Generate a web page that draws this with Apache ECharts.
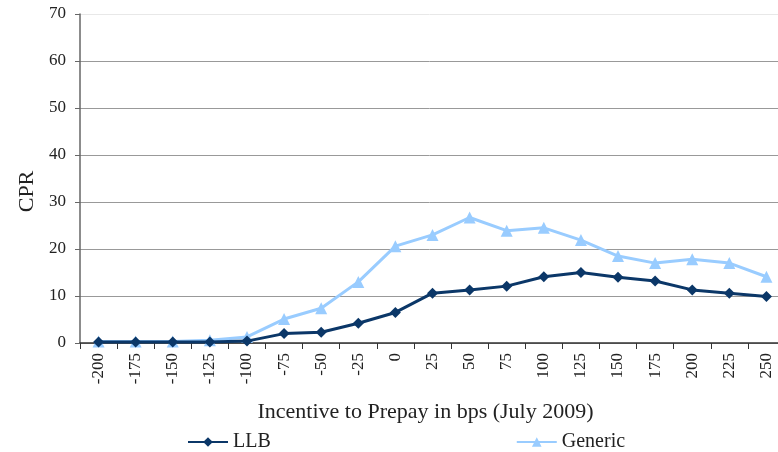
<!DOCTYPE html>
<html>
<head>
<meta charset="utf-8">
<script src="https://cdn.jsdelivr.net/npm/echarts@6/dist/echarts.min.js"></script>
<style>
  html, body { margin: 0; padding: 0; background: #fff; }
  #chart { width: 778px; height: 452px; }
</style>
</head>
<body>
<div id="chart"></div>
<script>
const incentives = ['-200', '-175', '-150', '-125', '-100', '-75', '-50', '-25', '0', '25',
    '50', '75', '100', '125', '150', '175', '200', '225', '250'];
const llb = [0.2, 0.2, 0.2, 0.2, 0.4, 2.0, 2.3, 4.2, 6.5, 10.6,
    11.3, 12.1, 14.1, 15.0, 14.0, 13.2, 11.3, 10.6, 9.9];
const generic = [0.3, 0.3, 0.3, 0.6, 1.3, 5.1, 7.4, 13.0, 20.6, 23.0,
    26.7, 23.9, 24.5, 21.9, 18.5, 17.0, 17.8, 17.0, 14.1];
const yTicks = [0, 10, 20, 30, 40, 50, 60, 70];

const serif = '"Liberation Serif", "DejaVu Serif", serif';
const chart = echarts.init(document.getElementById('chart'));

const option = {
    animation: false,
    textStyle: { fontFamily: serif },
    grid: { left: 80, top: 14, width: 705, height: 329, outerBoundsMode: 'none' },
    legend: {
        left: 182,
        top: 427,
        itemGap: 245,
        itemWidth: 40,
        itemHeight: 12,
        textStyle: { fontFamily: serif, fontSize: 20, color: '#222' },
        data: ['LLB', 'Generic']
    },
    xAxis: {
        type: 'category',
        data: incentives,
        boundaryGap: true,
        name: 'Incentive to Prepay in bps (July 2009)',
        nameLocation: 'middle',
        nameGap: 58,
        nameTextStyle: { fontFamily: serif, fontSize: 22, color: '#222', padding: [0, 14, 0, 0] },
        axisLine: { lineStyle: { color: '#333', width: 1.5 } },
        axisTick: { show: true, alignWithLabel: false, length: 6, lineStyle: { color: '#333' } },
        axisLabel: { rotate: 90, fontSize: 17, color: '#222', fontFamily: serif, margin: 10, interval: 0 }
    },
    yAxis: {
        type: 'value',
        min: 0,
        max: 70,
        interval: 10,
        name: 'CPR',
        nameLocation: 'middle',
        nameGap: 41,
        nameRotate: 90,
        nameTextStyle: { fontFamily: serif, fontSize: 22, color: '#222', padding: [0, 26, 0, 0] },
        axisLine: { show: true, lineStyle: { color: '#666', width: 1.5 } },
        axisTick: { show: true, length: 5, lineStyle: { color: '#666' } },
        axisLabel: {
            fontSize: 17, color: '#222', fontFamily: serif, margin: 14,
            formatter: v => yTicks.includes(v) ? String(v) : ''
        },
        splitLine: {
            lineStyle: {
                color: ['#999', '#999', '#999', '#999', '#999', '#999', '#999', '#e8e8e8'],
                width: 1
            }
        }
    },
    series: [
        {
            name: 'LLB',
            type: 'line',
            data: llb,
            symbol: 'diamond',
            symbolSize: 11,
            itemStyle: { color: '#0b3768' },
            lineStyle: { color: '#0b3768', width: 3 },
            z: 3
        },
        {
            name: 'Generic',
            type: 'line',
            data: generic,
            symbol: 'triangle',
            symbolSize: 12,
            itemStyle: { color: '#99ccff' },
            lineStyle: { color: '#99ccff', width: 3 },
            z: 2
        }
    ]
};
chart.setOption(option);
</script>
</body>
</html>
